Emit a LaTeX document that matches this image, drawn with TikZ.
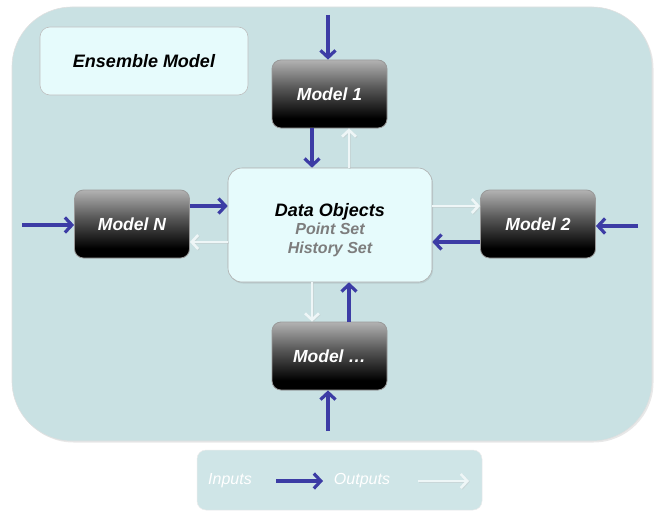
\documentclass[tikz,border=0pt]{standalone}
\usepackage{fontspec}
\setmainfont{Liberation Sans}
\usetikzlibrary{arrows.meta,shadows,calc}

\definecolor{panel}{RGB}{201,225,227}
\definecolor{lightbox}{RGB}{230,251,252}
\definecolor{inblue}{RGB}{60,60,165}
\definecolor{outpale}{RGB}{238,246,247}
\definecolor{legendfill}{RGB}{207,229,231}
\definecolor{subtext}{RGB}{125,125,125}

% dark glossy fill of the model blocks
\pgfdeclareverticalshading{modelshade}{100bp}{color(0bp)=(black); color(32bp)=(black); color(55bp)=(black!65); color(75bp)=(black!30); color(100bp)=(black!30)}

\tikzset{
  panelbox/.style={fill=panel, draw=black!12, line width=0.6pt, rounded corners=60,
    drop shadow={opacity=0.18, shadow xshift=1.5pt, shadow yshift=-1.5pt}},
  titlebox/.style={fill=lightbox, draw=black!25, line width=0.6pt, rounded corners=10,
    minimum width=208, minimum height=68, inner sep=0,
    font=\fontsize{18}{20}\selectfont\bfseries\itshape},
  databox/.style={fill=lightbox, draw=black!32, line width=0.6pt, rounded corners=14,
    minimum width=204, minimum height=114, inner sep=0,
    drop shadow={opacity=0.2, shadow xshift=1pt, shadow yshift=-1.5pt}},
  model/.style={shading=modelshade, draw=black!40, line width=0.8pt, rounded corners=9,
    minimum width=115, minimum height=68, inner sep=0, text=white,
    font=\fontsize{17.5}{20}\selectfont\bfseries\itshape},
  legendbox/.style={fill=legendfill, draw=black!8, line width=0.5pt, rounded corners=9},
  legendtext/.style={text=white, font=\fontsize{16}{19}\selectfont\itshape},
  inarrow/.style={draw=inblue, line width=3.2pt, -{Straight Barb[length=7pt, width=15pt]}},
  outarrow/.style={draw=outpale, line width=2.6pt, -{Straight Barb[length=6.5pt, width=14pt]},
    preaction={draw=black!25, draw opacity=0.35, line width=2.6pt,
      -{Straight Barb[length=6.5pt, width=14pt]}, transform canvas={shift={(0.8pt,-0.8pt)}}}}
}

\begin{document}
\begin{tikzpicture}[x=1pt, y=-1pt]
  \useasboundingbox (0,0) rectangle (658,511);

  % enclosing ensemble panel
  \path[panelbox] (12,7) rectangle (652,441);

  % legend strip
  \path[legendbox] (197,450) rectangle (482,510);
  \node[legendtext] (lin) at (230,481) {Inputs};
  \node[legendtext] (lout) at (362,481) {Outputs};
  \coordinate (lina) at (276,481);
  \coordinate (linb) at (323,481);
  \coordinate (louta) at (418,481);
  \coordinate (loutb) at (469,481);
  \draw[inarrow] (lina) -- (linb);
  \draw[outarrow] (louta) -- (loutb);

  % title
  \node[titlebox] (title) at (144,61) {Ensemble Model};

  % shared data store
  \node[databox] (data) at (330,225) {};
  \node[align=center, inner sep=0, font=\fontsize{16}{18.5}\selectfont\bfseries\itshape]
    (datatext) at (330,230)
    {{\fontsize{18}{18}\selectfont Data Objects}\\
     {\color{subtext}Point Set}\\
     {\color{subtext}History Set}};

  % member models
  \node[model] (m1) at (329.5,94) {Model 1};
  \node[model] (mn) at (132,224) {Model N};
  \node[model] (m2) at (538,224) {Model 2};
  \node[model] (mk) at (329.5,356) {Model \dots};

  % external inputs
  \coordinate (in1) at (328,15);
  \coordinate (inn) at (22,225);
  \coordinate (in2) at (638,226);
  \coordinate (ink) at (328,431);
  \draw[inarrow] (in1) -- (in1 |- m1.north);
  \draw[inarrow] (inn) -- (inn -| mn.west);
  \draw[inarrow] (in2) -- (in2 -| m2.east);
  \draw[inarrow] (ink) -- (ink |- mk.south);

  % Model 1 <-> data
  \draw[inarrow] ([xshift=-17.5pt]m1.south) -- ([xshift=-17.5pt]m1.south |- data.north);
  \draw[outarrow] ([xshift=19.5pt]m1.south |- data.north) -- ([xshift=19.5pt]m1.south);

  % Model N <-> data
  \draw[inarrow] ([yshift=18pt]mn.east) -- ([yshift=18pt]mn.east -| data.west);
  \draw[outarrow] ([yshift=-18pt]mn.east -| data.west) -- ([yshift=-18pt]mn.east);

  % Model 2 <-> data
  \draw[outarrow] ([yshift=18pt]m2.west -| data.east) -- ([yshift=18pt]m2.west);
  \draw[inarrow] ([yshift=-18pt]m2.west) -- ([yshift=-18pt]m2.west -| data.east);

  % Model ... <-> data
  \draw[outarrow] ([xshift=-17.5pt]mk.north |- data.south) -- ([xshift=-17.5pt]mk.north);
  \draw[inarrow] ([xshift=19.5pt]mk.north) -- ([xshift=19.5pt]mk.north |- data.south);
\end{tikzpicture}
\end{document}
